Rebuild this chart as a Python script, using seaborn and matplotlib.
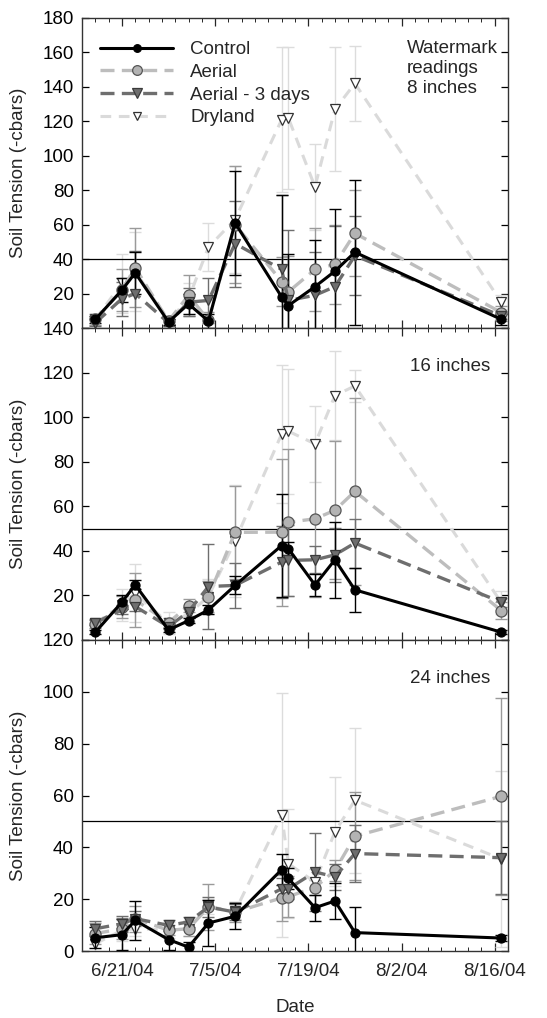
import matplotlib
matplotlib.use("Agg")
import matplotlib.pyplot as plt
import matplotlib.dates as mdates
from matplotlib.lines import Line2D
import seaborn as sns
import pandas as pd
import numpy as np

# ---------------- data ----------------
dates = ["2004-06-17", "2004-06-21", "2004-06-23", "2004-06-28", "2004-07-01",
         "2004-07-04", "2004-07-08", "2004-07-15", "2004-07-16", "2004-07-20",
         "2004-07-23", "2004-07-26", "2004-08-17"]

series_names = ["Control", "Aerial", "Aerial - 3 days", "Dryland"]

# 8 inches
control_8 = [5, 22, 32, 3.5, 14, 4, 61, 18, 13, 24, 33, 44, 5]
aerial_8 = [5, 22, 35, 4, 19, 4.5, 60, 27, 21, 34, 37, 55, 9]
aerial3_8 = [3, 17, 20, 3, 15, 16, 49, 34, 16, 19, 24, 42, 7]
dryland_8 = [5, 26, 33, 4, 17, 47, 63, 121, 122, 82, 127, 142, 15]
control_8_err = [2, 7, 12, 2, 6, 4, 30, 59, 30, 27, 36, 42, 3]
aerial_8_err = [3, 12, 23, 3, 12, 5, 34, 14, 21, 24, 23, 25, 4]
aerial3_8_err = [2, 10, 25, 2, 8, 13, 25, 43, 41, 25, 35, 23, 3]
dryland_8_err = [3, 17, 23, 3, 9, 14, 31, 42, 41, 25, 36, 22, 4]

# 16 inches
control_16 = [3.5, 17, 24.7, 4.5, 8.7, 13.5, 24.5, 42.4, 41, 24.7, 36, 22.5, 3.5]
aerial_16 = [7.2, 14.7, 18, 7.8, 15.4, 19.5, 48.3, 48.4, 52.8, 54.4, 58.2, 66.7, 13.2]
aerial3_16 = [7.8, 13.5, 15, 6, 12.7, 24, 24.5, 35, 35.7, 36, 38.2, 43.5, 17]
dryland_16 = [7.5, 15.7, 21, 7.5, 11.7, 19.5, 44.5, 92.5, 93.7, 88, 109.7, 114, 16.8]
control_16_err = [1, 3, 2, 1, 1, 2, 4, 23, 3, 5, 17, 10, 1]
aerial_16_err = [2, 5, 12, 2, 3, 7, 21, 33, 33, 35, 31, 42, 4]
aerial3_16_err = [1, 2, 2, 1, 2, 19, 10, 16, 16, 6, 12, 11, 2]
dryland_16_err = [2, 7, 13, 5, 3, 8, 25, 31, 28, 17, 20, 7, 5]

# 24 inches
control_24 = [5.1, 6.3, 11.8, 4.4, 1.5, 10.8, 13.4, 31.4, 28, 16.7, 19.3, 7.1, 5]
aerial_24 = [6.7, 8.6, 12.5, 8, 8.6, 17, 15, 20.5, 21, 24.5, 31.1, 44.3, 59.7]
aerial3_24 = [8.6, 10.5, 12.5, 9.9, 11.2, 17, 15, 24, 24, 30.5, 28.6, 37.6, 36]
dryland_24 = [2.8, 8, 8.6, 8.2, 8.6, 17.2, 15.3, 52.4, 33.7, 26.6, 46, 58.2, 35.5]
control_24_err = [4, 6, 7.5, 4, 2, 9, 5, 6, 4, 5, 7, 10, 1]
aerial_24_err = [4, 4, 5, 2, 3, 9, 4, 9, 8, 3, 4, 17, 38]
aerial3_24_err = [3, 3, 3, 2, 2, 4, 3, 4, 4, 15, 5, 11, 14]
dryland_24_err = [3, 4, 3, 3, 3, 3, 3, 47, 21, 5, 21, 28, 34]

panel_labels = ["Watermark\nreadings\n8 inches", "16 inches", "24 inches"]
panel_ylims = [(0, 180), (0, 140), (0, 120)]
panel_refline = [40, 50, 50]

xtick_dates = ["2004-06-21", "2004-07-05", "2004-07-19", "2004-08-02", "2004-08-16"]
xtick_labels = ["6/21/04", "7/5/04", "7/19/04", "8/2/04", "8/16/04"]
x_range = ["2004-06-15", "2004-08-18"]

# ---------------- style ----------------
sns.set_theme(style="white")
plt.rcParams["font.family"] = ["Liberation Sans", "DejaVu Sans"]
FS = 13.5
plt.rcParams["font.size"] = FS

styles = {
    "Control": dict(color="black", lw=2.2, ls="-", marker="o", ms=6.5,
                    mfc="black", mec="black", ecol="black", z=6),
    "Aerial": dict(color="#bdbdbd", lw=2.4, ls=(0, (4.2, 2.2)), marker="o", ms=8,
                   mfc="#b3b3b3", mec="#555555", ecol="#9a9a9a", z=4),
    "Aerial - 3 days": dict(color="#6e6e6e", lw=2.4, ls=(0, (4.2, 2.2)), marker="v", ms=7.5,
                            mfc="#6e6e6e", mec="#3a3a3a", ecol="#6e6e6e", z=5),
    "Dryland": dict(color="#dadada", lw=2.2, ls=(0, (3.5, 2.5)), marker="v", ms=7,
                    mfc="white", mec="#333333", ecol="#dcdcdc", z=3),
}

panels = [
    [control_8, aerial_8, aerial3_8, dryland_8],
    [control_16, aerial_16, aerial3_16, dryland_16],
    [control_24, aerial_24, aerial3_24, dryland_24],
]
panel_errs = [
    [control_8_err, aerial_8_err, aerial3_8_err, dryland_8_err],
    [control_16_err, aerial_16_err, aerial3_16_err, dryland_16_err],
    [control_24_err, aerial_24_err, aerial3_24_err, dryland_24_err],
]

x = pd.to_datetime(dates)

fig = plt.figure(figsize=(5.47, 10.18), dpi=100)
W, H = 547, 1018
left, right = 82, 508
bounds = [(18, 328), (328, 640), (640, 951)]

axes = []
for i, (top, bot) in enumerate(bounds):
    ax = fig.add_axes([left / W, 1 - bot / H, (right - left) / W, (bot - top) / H],
                      sharex=axes[0] if axes else None)
    axes.append(ax)
    ax.set_facecolor("white")

    for name, vals, errs in zip(series_names, panels[i], panel_errs[i]):
        st = styles[name]
        ax.errorbar(x, vals, yerr=errs, fmt="none", ecolor=st["ecol"],
                    elinewidth=1.0, capsize=4, capthick=1.0, zorder=st["z"] - 2)

    for name in ["Dryland", "Aerial", "Aerial - 3 days", "Control"]:
        idx = series_names.index(name)
        st = styles[name]
        df = pd.DataFrame({"Date": x, "val": panels[i][idx]})
        sns.lineplot(data=df, x="Date", y="val", ax=ax, color=st["color"],
                     linewidth=st["lw"], linestyle=st["ls"], marker=st["marker"],
                     markersize=st["ms"], markerfacecolor=st["mfc"],
                     markeredgecolor=st["mec"], markeredgewidth=0.9,
                     zorder=st["z"], legend=False)

    ax.axhline(panel_refline[i], color="black", lw=0.9, zorder=1)

    lo, hi = panel_ylims[i]
    ax.set_ylim(lo, hi)
    ticks = np.arange(lo, hi + 1, 20)
    ax.set_yticks(ticks)
    # the zero of the upper panels sits under the top label of the panel below
    ax.set_yticklabels([("" if (t == 0 and i < 2) else str(int(t))) for t in ticks])
    ax.set_ylabel("Soil Tension (-cbars)", fontsize=FS)
    ax.yaxis.set_label_coords(-0.128, 0.5)
    ax.tick_params(axis="y", direction="in", length=5, width=0.9, pad=6,
                   labelsize=FS, left=True, right=True, colors="black")
    ax.tick_params(axis="x", which="major", direction="in", length=6, width=0.9,
                   top=True, bottom=True, pad=9, labelsize=FS)
    ax.tick_params(axis="x", which="minor", direction="in", length=3, width=0.7,
                   top=True, bottom=True)
    for sp in ax.spines.values():
        sp.set_color("#333333")
        sp.set_linewidth(1.0)

    if i == 0:
        ax.text(0.762, 0.928, panel_labels[i], transform=ax.transAxes, ha="left",
                va="top", fontsize=FS, linespacing=1.2, zorder=10)
    else:
        ax.text(0.77, 0.905, panel_labels[i], transform=ax.transAxes, ha="left",
                va="top", fontsize=FS, zorder=10)

    if i < 2:
        ax.tick_params(axis="x", labelbottom=False)
        ax.set_xlabel("")
    else:
        ax.set_xlabel("Date", fontsize=FS, labelpad=13)

ax0 = axes[0]
ax0.set_xlim(pd.to_datetime(x_range[0]), pd.to_datetime(x_range[1]))
axes[2].set_xticks(pd.to_datetime(xtick_dates))
axes[2].set_xticklabels(xtick_labels)
axes[2].xaxis.set_minor_locator(mdates.DayLocator(interval=2))

handles = []
for name in series_names:
    st = styles[name]
    handles.append(Line2D([], [], color=st["color"], lw=st["lw"], ls=st["ls"],
                          marker=st["marker"], ms=st["ms"] - 1, mfc=st["mfc"],
                          mec=st["mec"], mew=0.9))
ax0.legend(handles, series_names, loc="upper left", frameon=False, fontsize=FS,
           handlelength=3.9, handletextpad=0.9, labelspacing=0.3,
           bbox_to_anchor=(0.025, 0.95), borderaxespad=0.0)

fig.savefig("out.png", dpi=100, facecolor="white")
